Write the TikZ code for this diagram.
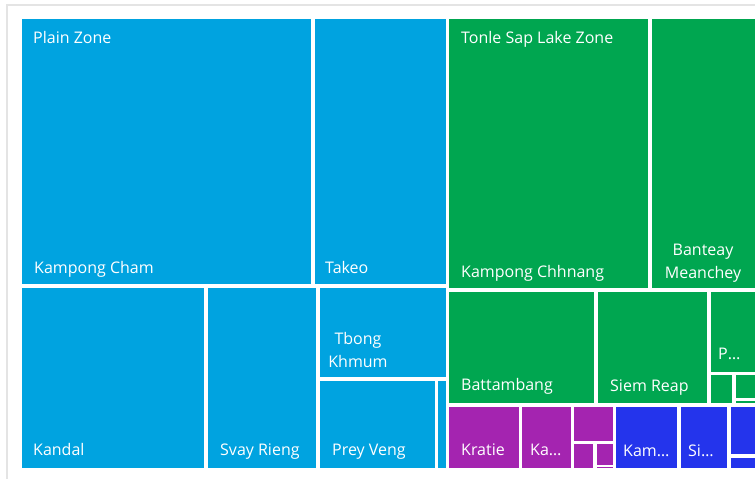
\documentclass[tikz,border=0pt]{standalone}
\usepackage{fontspec}
\setmainfont{Open Sans}

\definecolor{plainblue}{RGB}{0,163,224}
\definecolor{lakegreen}{RGB}{0,166,80}
\definecolor{purplezone}{RGB}{164,36,176}
\definecolor{darkblue}{RGB}{36,52,236}
\definecolor{framegrey}{RGB}{228,228,228}

\begin{document}
\begin{tikzpicture}[
            x = 1pt, y = -1pt, % pixel like units
            leaf/.style = {text = white, inner sep = 0pt, anchor = base west,
                font = \fontsize{16}{23}\selectfont},
            twoline/.style = {leaf, anchor = base, align = center} % base = last line
        ]

        \useasboundingbox (0,0) rectangle (755,479);
        \draw[framegrey, line width = 1.2pt] (7,479) -- (7,5) -- (755,5);

        % plain zone
        \fill[plainblue] (22,19) rectangle (311,284);
        \fill[plainblue] (315,19) rectangle (446,284);
        \fill[plainblue] (22,288) rectangle (204,468);
        \fill[plainblue] (208,288) rectangle (316,468);
        \fill[plainblue] (320,288) rectangle (446,377);
        \fill[plainblue] (320,381) rectangle (435,468);
        \fill[plainblue] (438,381) rectangle (446,468);

        % tonle sap lake zone
        \fill[lakegreen] (449,19) rectangle (648,288);
        \fill[lakegreen] (652,19) rectangle (755,288);
        \fill[lakegreen] (449,292) rectangle (594,403);
        \fill[lakegreen] (598,292) rectangle (707,403);
        \fill[lakegreen] (711,292) rectangle (755,372);
        \fill[lakegreen] (711,375) rectangle (732,403);
        \fill[lakegreen] (736,375) rectangle (755,398);
        \fill[lakegreen] (736,401) rectangle (755,403);

        % purple zone
        \fill[purplezone] (449,407) rectangle (519,468);
        \fill[purplezone] (522,407) rectangle (571,468);
        \fill[purplezone] (574,407) rectangle (613,441);
        \fill[purplezone] (574,444) rectangle (593,468);
        \fill[purplezone] (597,444) rectangle (613,465);
        \fill[purplezone] (597,467) rectangle (613,468);

        % dark blue zone
        \fill[darkblue] (616,407) rectangle (677,468);
        \fill[darkblue] (681,407) rectangle (727,468);
        \fill[darkblue] (731,407) rectangle (755,454);
        \fill[darkblue] (731,458) rectangle (755,468);

        \node[leaf] (pz) at (33,43) {Plain Zone};
        \node[leaf] (kc) at (34,273) {Kampong Cham};
        \node[leaf] (tk) at (325,273) {Takeo};
        \node[leaf] (kd) at (33,455) {Kandal};
        \node[leaf] (sr) at (220,455) {Svay Rieng};
        \node[twoline] (tb) at (358,367) {Tbong\\Khmum};
        \node[leaf] (pv) at (332,455) {Prey Veng};

        \node[leaf] (tz) at (461,43) {Tonle Sap Lake Zone};
        \node[leaf] (kn) at (461,277) {Kampong Chhnang};
        \node[twoline] (bm) at (703,278) {Banteay\\Meanchey};
        \node[leaf] (bb) at (461,390) {Battambang};
        \node[leaf] (sp) at (610,391) {Siem Reap};
        \node[leaf] (ps) at (718,359) {P…};

        \node[leaf] (kt) at (461,455) {Kratie};
        \node[leaf] (ka) at (530,455) {Ka…};
        \node[leaf] (km) at (623,456) {Kam…};
        \node[leaf] (si) at (688,456) {Si…};

  \end{tikzpicture}
\end{document}
